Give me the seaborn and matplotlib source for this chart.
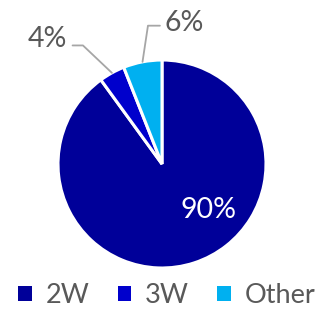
import numpy as np
import matplotlib
matplotlib.use("Agg")
import matplotlib.pyplot as plt
import seaborn as sns
from matplotlib.patches import Patch

sns.set_theme(style="white")
plt.rcParams['font.family'] = ['Lato', 'DejaVu Sans']

categories = ["2W", "3W", "Other"]
values = [90, 4, 6]
labels = ["90%", "4%", "6%"]
colors = ["#000099", "#0000CC", "#00B0F0"]
text_color = "#595959"
fs = 20.5

fig = plt.figure(figsize=(3.16, 3.17), dpi=100)
ax = fig.add_axes([(162 - 104) / 316, (317 - 164 - 104) / 317, 208 / 316, 208 / 317])
wedges, _ = ax.pie(values, colors=colors, startangle=90, counterclock=False,
                   wedgeprops=dict(edgecolor="white", linewidth=2.2), radius=1)
ax.set_xlim(-1, 1)
ax.set_ylim(-1, 1)
ax.set_aspect("equal")
ax.axis("off")

def mid(w):
    a = np.deg2rad((w.theta1 + w.theta2) / 2)
    return np.cos(a), np.sin(a)

# 90% label inside
ax.text(0.45, -0.44, labels[0], color="white", fontsize=fs, ha="center", va="center")

# 4% label with leader
mx, my = mid(wedges[1])
ax.plot([mx, -0.76, -0.86], [my, 1.14, 1.14], color="#A6A6A6", lw=1.3, clip_on=False)
ax.text(-1.10, 1.20, labels[1], color=text_color, fontsize=fs, ha="center", va="center")

# 6% label with leader
mx, my = mid(wedges[2])
ax.plot([mx, -0.135, -0.02], [my, 1.33, 1.33], color="#A6A6A6", lw=1.3, clip_on=False)
ax.text(0.21, 1.36, labels[2], color=text_color, fontsize=fs, ha="center", va="center")

handles = [Patch(facecolor=c, edgecolor="none") for c in colors]
leg = fig.legend(handles, categories, loc="center", bbox_to_anchor=(0.528, 0.068), ncol=3,
                 frameon=False, fontsize=19.5, handlelength=0.5, handleheight=0.5,
                 handletextpad=0.5, columnspacing=1.05, labelcolor=text_color,
                 borderpad=0, borderaxespad=0)

fig.savefig("out.png", dpi=100)
